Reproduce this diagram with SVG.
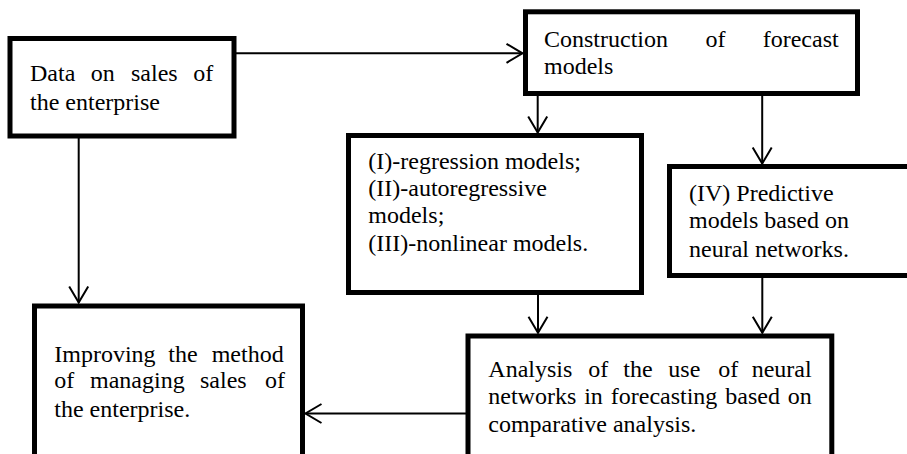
<svg xmlns="http://www.w3.org/2000/svg" width="907" height="454" viewBox="0 0 907 454">
<style>
.box{fill:#fff;stroke:#000;stroke-width:5}
.t{font-family:"Liberation Serif","Times New Roman","DejaVu Serif",serif;font-size:24px;fill:#000}
.c{fill:none;stroke:#000;stroke-width:2}
</style>
<defs>
<marker id="ah" markerUnits="userSpaceOnUse" markerWidth="24" markerHeight="24" viewBox="-20 -12 24 24" refX="0" refY="0" orient="auto" overflow="visible">
<path d="M-16,-9.5 L0,0 L-16,9.5" fill="none" stroke="#000" stroke-width="2"/>
</marker>
</defs>
<rect width="907" height="454" fill="#fff"/>
<g id="connectors">
<line class="c" x1="236" y1="53.3" x2="522.5" y2="53.3" marker-end="url(#ah)"/>
<line class="c" x1="78.7" y1="138" x2="78.7" y2="302.5" marker-end="url(#ah)"/>
<line class="c" x1="537.7" y1="95" x2="537.7" y2="132.5" marker-end="url(#ah)"/>
<line class="c" x1="762.2" y1="95" x2="762.2" y2="163.5" marker-end="url(#ah)"/>
<line class="c" x1="538" y1="294" x2="538" y2="332.8" marker-end="url(#ah)"/>
<line class="c" x1="762.3" y1="277" x2="762.3" y2="332.8" marker-end="url(#ah)"/>
<line class="c" x1="466" y1="413.5" x2="305.5" y2="413.5" marker-end="url(#ah)"/>
</g>
<g id="n1">
<rect class="box" x="10" y="38.5" width="224" height="97.5"/>
<text class="t" y="81"><tspan x="30">Data</tspan><tspan x="90.7">on</tspan><tspan x="131">sales</tspan><tspan x="193.3">of</tspan></text>
<text class="t" x="30" y="109.5">the enterprise</text>
</g>
<g id="n2">
<rect class="box" x="525.5" y="11.8" width="332" height="81.7"/>
<text class="t" y="47.3"><tspan x="544">Construction</tspan><tspan x="705.5">of</tspan><tspan x="762.7">forecast</tspan></text>
<text class="t" x="544" y="74">models</text>
</g>
<g id="n3">
<rect class="box" x="348.5" y="135.5" width="293" height="157"/>
<text class="t" x="368.3" y="169.3">(I)-regression models;</text>
<text class="t" x="368.3" y="196">(II)-autoregressive</text>
<text class="t" x="368.3" y="223.3">models;</text>
<text class="t" x="368.3" y="251">(III)-nonlinear models.</text>
</g>
<g id="n4">
<rect class="box" x="669.5" y="166.5" width="250" height="109"/>
<text class="t" x="689" y="201">(IV) Predictive</text>
<text class="t" x="689" y="228.3">models based on</text>
<text class="t" x="689" y="256.7">neural networks.</text>
</g>
<g id="n5">
<rect class="box" x="468" y="336" width="363.8" height="130"/>
<text class="t" y="376.7"><tspan x="488.3">Analysis</tspan><tspan x="588.3">of</tspan><tspan x="623.3">the</tspan><tspan x="668.3">use</tspan><tspan x="718.3">of</tspan><tspan x="751.7">neural</tspan></text>
<text class="t" x="488.3" y="404" word-spacing="1.9">networks in forecasting based on</text>
<text class="t" x="488.3" y="432.3">comparative analysis.</text>
</g>
<g id="n6">
<rect class="box" x="34.5" y="306" width="268" height="160"/>
<text class="t" y="361.7"><tspan x="54.3">Improving</tspan><tspan x="168.3">the</tspan><tspan x="211.7">method</tspan></text>
<text class="t" y="388.3"><tspan x="54.3">of</tspan><tspan x="90">managing</tspan><tspan x="200">sales</tspan><tspan x="265">of</tspan></text>
<text class="t" x="54.3" y="416.7">the enterprise.</text>
</g>
</svg>
